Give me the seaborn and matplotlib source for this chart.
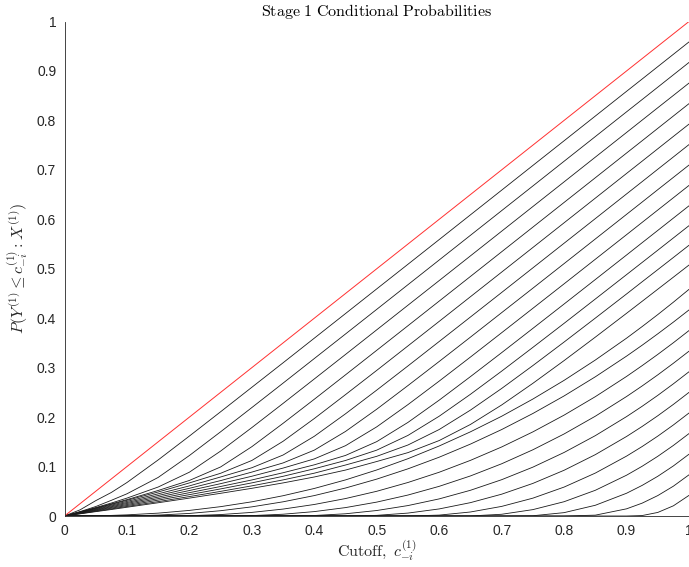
import numpy as np
import pandas as pd
import seaborn as sns
import matplotlib.pyplot as plt

# Cutoff grid shared by every curve
cutoff = [0.0, 0.025, 0.05, 0.075, 0.1, 0.15, 0.2, 0.25, 0.3, 0.35, 0.4, 0.45, 0.5,
          0.55, 0.6, 0.65, 0.7, 0.75, 0.8, 0.85, 0.9, 0.925, 0.95, 0.975, 1.0]

# Conditional probability curves, one per conditioning level (top to bottom)
c01 = [0, .0125, .0310, .0476, .0677, .1134, .1617, .2108, .2603, .3098, .3596, .4094, .4593,
       .5091, .5590, .6090, .6589, .7089, .7588, .8088, .8588, .8837, .9087, .9337, .9587]
c02 = [0, .0089, .0191, .0317, .0449, .0780, .1223, .1703, .2193, .2687, .3184, .3681, .4179,
       .4678, .5177, .5676, .6175, .6674, .7174, .7673, .8173, .8422, .8672, .8922, .9172]
c03 = [0, .0084, .0170, .0262, .0362, .0586, .0886, .1313, .1788, .2277, .2771, .3267, .3765,
       .4263, .4761, .5260, .5759, .6258, .6757, .7257, .7756, .8006, .8256, .8505, .8755]
c04 = [0, .0080, .0162, .0245, .0331, .0516, .0719, .0992, .1402, .1874, .2361, .2855, .3351,
       .3848, .4346, .4844, .5343, .5842, .6341, .6840, .7340, .7589, .7839, .8089, .8339]
c05 = [0, .0078, .0156, .0236, .0317, .0485, .0669, .0864, .1123, .1511, .1971, .2455, .2945,
       .3440, .3936, .4434, .4932, .5430, .5929, .6428, .6927, .7176, .7426, .7676, .7925]
c06 = [0, .0073, .0146, .0220, .0295, .0448, .0609, .0789, .0976, .1233, .1612, .2067, .2546,
       .3035, .3529, .4024, .4520, .5018, .5516, .6014, .6513, .6762, .7012, .7261, .7511]
c07 = [0, .0068, .0135, .0204, .0273, .0414, .0560, .0716, .0888, .1073, .1332, .1710, .2160,
       .2638, .3125, .3617, .4112, .4607, .5104, .5602, .6100, .6349, .6599, .6848, .7097]
c08 = [0, .0063, .0125, .0188, .0253, .0382, .0515, .0654, .0804, .0969, .1155, .1422, .1803,
       .2253, .2728, .3214, .3706, .4200, .4695, .5192, .5689, .5938, .6187, .6436, .6685]
c09 = [0, .0058, .0115, .0173, .0232, .0351, .0472, .0597, .0729, .0875, .1035, .1225, .1504,
       .1893, .2343, .2818, .3303, .3794, .4287, .4782, .5278, .5527, .5775, .6024, .6273]
c10 = [0, .0053, .0105, .0158, .0212, .0321, .0432, .0548, .0670, .0803, .0955, .1123, .1332,
       .1630, .2018, .2461, .2929, .3410, .3896, .4388, .4881, .5128, .5375, .5623, .5871]
c11 = [0, .0048, .0095, .0143, .0193, .0291, .0393, .0498, .0610, .0730, .0866, .1031, .1207,
       .1436, .1749, .2141, .2579, .3042, .3518, .4002, .4490, .4737, .4982, .5228, .5475]
c12 = [0, .0044, .0088, .0131, .0177, .0268, .0362, .0459, .0560, .0669, .0789, .0929, .1102,
       .1282, .1526, .1851, .2245, .2683, .3143, .3617, .4099, .4342, .4586, .4830, .5075]
c13 = [0, .0001, .0005, .0012, .0023, .0058, .0113, .0189, .0287, .0410, .0557, .0730, .0931,
       .1159, .1416, .1702, .2017, .2365, .2743, .3154, .3596, .3831, .4073, .4324, .4583]
c14 = [0, 0, 0, 0, .0002, .0018, .0052, .0107, .0185, .0287, .0413, .0566, .0746,
       .0954, .1189, .1454, .1748, .2073, .2428, .2815, .3233, .3454, .3684, .3921, .4167]
c15 = [0, 0, 0, 0, 0, 0, .0006, .0029, .0073, .0140, .0233, .0353, .0500,
       .0678, .0885, .1125, .1396, .1701, .2040, .2413, .2822, .3041, .3268, .3504, .3750]
c16 = [0, 0, 0, 0, 0, 0, 0, 0, .0008, .0036, .0089, .0170, .0281,
       .0424, .0600, .0810, .1056, .1339, .1659, .2018, .2416, .2630, .2854, .3089, .3333]
c17 = [0, 0, 0, 0, 0, 0, 0, 0, 0, 0, .0010, .0045, .0111,
       .0211, .0346, .0520, .0734, .0988, .1285, .1625, .2010, .2219, .2440, .2673, .2917]
c18 = [0, 0, 0, 0, 0, 0, 0, 0, 0, 0, 0, 0, .0013,
       .0059, .0143, .0270, .0441, .0659, .0925, .1241, .1608, .1811, .2027, .2257, .2500]
c19 = [0, 0, 0, 0, 0, 0, 0, 0, 0, 0, 0, 0, 0,
       0, .0018, .0081, .0194, .0361, .0585, .0868, .1211, .1405, .1615, .1841, .2083]
c20 = [0, 0, 0, 0, 0, 0, 0, 0, 0, 0, 0, 0, 0,
       0, 0, .0001, .0035, .0129, .0289, .0520, .0825, .1006, .1207, .1427, .1667]
c21 = [0, 0, 0, 0, 0, 0, 0, 0, 0, 0, 0, 0, 0,
       0, 0, 0, 0, .0005, .0068, .0217, .0460, .0619, .0803, .1013, .1250]
c22 = [0, 0, 0, 0, 0, 0, 0, 0, 0, 0, 0, 0, 0,
       0, 0, 0, 0, 0, 0, .0017, .0145, .0260, .0413, .0603, .0833]
c23 = [0, 0, 0, 0, 0, 0, 0, 0, 0, 0, 0, 0, 0,
       0, 0, 0, 0, 0, 0, 0, 0, .0009, .0072, .0206, .0417]
c24 = [0, 0, 0, 0, 0, 0, 0, 0, 0, 0, 0, 0, 0,
       0, 0, 0, 0, 0, 0, 0, 0, 0, 0, 0, 0]

curves = [c01, c02, c03, c04, c05, c06, c07, c08, c09, c10, c11, c12,
          c13, c14, c15, c16, c17, c18, c19, c20, c21, c22, c23, c24]

# Unconditional reference: probability equals the cutoff
ref_x = [0.0, 1.0]
ref_y = [0.0, 1.0]

rows = []
for i, ys in enumerate(curves):
    for x, y in zip(cutoff, ys):
        rows.append({"curve": i, "cutoff": x, "prob": y})
df = pd.DataFrame(rows)

sns.set_theme(style="white")
plt.rcParams["mathtext.fontset"] = "cm"
plt.rcParams["font.family"] = ["Liberation Sans", "DejaVu Sans"]

W, H = 689, 567
fig = plt.figure(figsize=(W / 100, H / 100), dpi=100)
ax = fig.add_axes([64.5 / W, 51 / H, (W - 64.5) / W, 494.5 / H])

sns.lineplot(data=df, x="cutoff", y="prob", units="curve", estimator=None,
             color="#1a1a1a", linewidth=0.6, ax=ax, legend=False)
sns.lineplot(x=ref_x, y=ref_y, color="#ff3030", linewidth=0.7, ax=ax)

ax.set_xlim(0, 1)
ax.set_ylim(0, 1)
ticks = np.round(np.arange(0, 1.01, 0.1), 1)
labels = ["0" if t == 0 else ("1" if t == 1 else f"{t:g}") for t in ticks]
ax.set_xticks(ticks)
ax.set_xticklabels(labels)
ax.set_yticks(ticks)
ax.set_yticklabels(labels)

for s in ["top", "right"]:
    ax.spines[s].set_visible(False)
for s in ["left", "bottom"]:
    ax.spines[s].set_color("#262626")
    ax.spines[s].set_linewidth(0.6)
ax.tick_params(direction="in", length=5, width=0.6, colors="#262626",
               labelsize=10, pad=6)

ax.set_xlabel(r"$\mathrm{Cutoff,}\ c_{-i}^{(1)}$", fontsize=11.5, color="#262626",
              labelpad=0)
ax.set_ylabel(r"$P(Y^{(1)}\leq c_{-i}^{(1)} : X^{(1)})$", fontsize=11.5,
              color="#262626", labelpad=5)
ax.set_title(r"$\mathrm{Stage\ 1\ Conditional\ Probabilities}$", fontsize=11.5,
             color="#000000", pad=4)

fig.savefig("out.png", dpi=100)
